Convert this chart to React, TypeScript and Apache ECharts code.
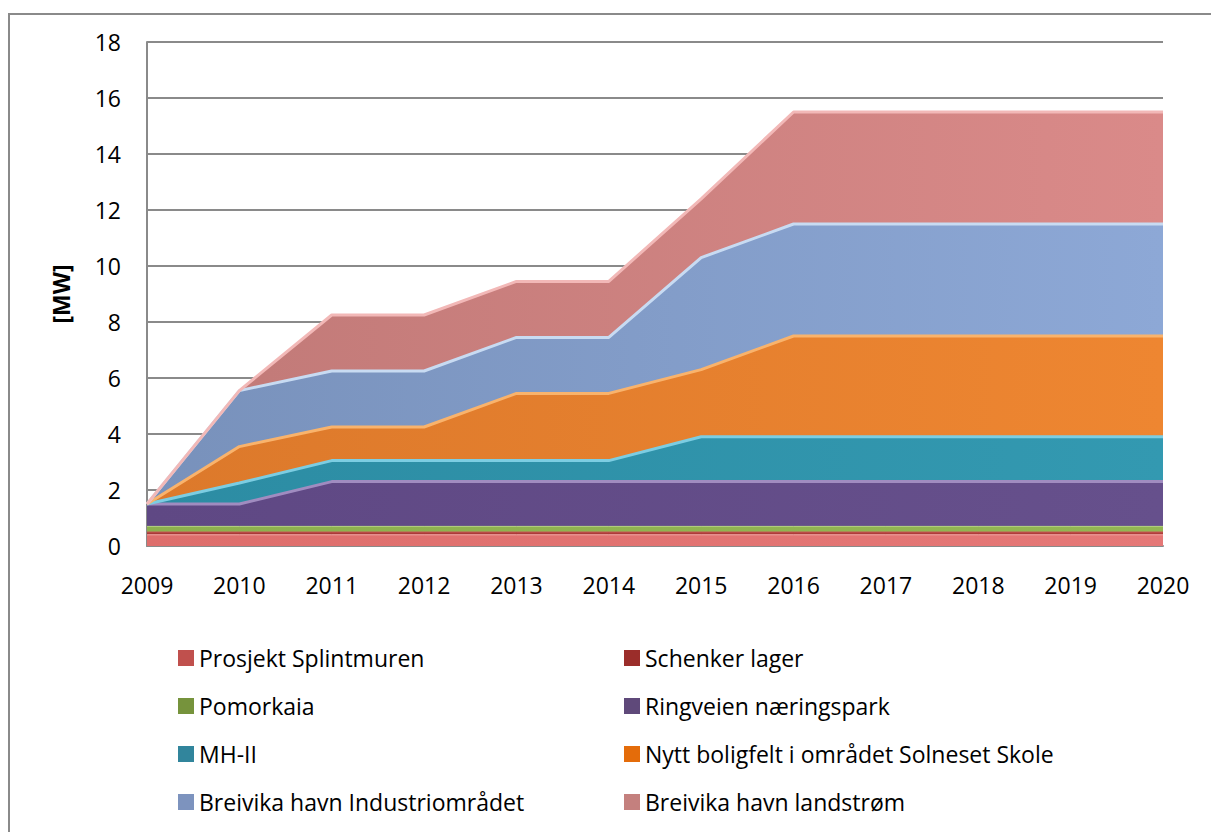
import React, { useEffect, useRef } from "react";
import * as echarts from "echarts";

const years = ["2009", "2010", "2011", "2012", "2013", "2014", "2015", "2016", "2017", "2018", "2019", "2020"];
const splintmuren = [0.4, 0.4, 0.4, 0.4, 0.4, 0.4, 0.4, 0.4, 0.4, 0.4, 0.4, 0.4];
const schenker = [0.1, 0.1, 0.1, 0.1, 0.1, 0.1, 0.1, 0.1, 0.1, 0.1, 0.1, 0.1];
const pomorkaia = [0.2, 0.2, 0.2, 0.2, 0.2, 0.2, 0.2, 0.2, 0.2, 0.2, 0.2, 0.2];
const ringveien = [0.8, 0.8, 1.6, 1.6, 1.6, 1.6, 1.6, 1.6, 1.6, 1.6, 1.6, 1.6];
const mh2 = [0, 0.75, 0.75, 0.75, 0.75, 0.75, 1.6, 1.6, 1.6, 1.6, 1.6, 1.6];
const solneset = [0, 1.3, 1.2, 1.2, 2.4, 2.4, 2.4, 3.6, 3.6, 3.6, 3.6, 3.6];
const industri = [0, 2.0, 2.0, 2.0, 2.0, 2.0, 4.0, 4.0, 4.0, 4.0, 4.0, 4.0];
const landstrom = [0, 0, 2.0, 2.0, 2.0, 2.0, 2.1, 4.0, 4.0, 4.0, 4.0, 4.0];

const names = [
  "Prosjekt Splintmuren",
  "Schenker lager",
  "Pomorkaia",
  "Ringveien næringspark",
  "MH-II",
  "Nytt boligfelt i området Solneset Skole",
  "Breivika havn Industriområdet",
  "Breivika havn landstrøm",
];
const values = [splintmuren, schenker, pomorkaia, ringveien, mh2, solneset, industri, landstrom];
// [left color, right color, edge highlight, legend color]
const colors = [
  ["#DE6E6C", "#E57877", "#F5A3A2", "#C0504D"],
  ["#A83A37", "#B03E3B", "#C75A57", "#9B2D2A"],
  ["#8DB04E", "#93B653", "#B3D47A", "#76933C"],
  ["#5F4884", "#66508C", "#A08CC0", "#5F497A"],
  ["#2C8CA3", "#3399B1", "#7CCDE2", "#31859C"],
  ["#DC792B", "#EE8631", "#F9B36C", "#E46C0A"],
  ["#7891BB", "#8DA8D6", "#C8DBF2", "#7D93BE"],
  ["#C07977", "#DA8A89", "#F2B8B7", "#C4807E"],
];

export default function App() {
  const ref = useRef<HTMLDivElement>(null);
  useEffect(() => {
    if (!ref.current) return;
    const chart = echarts.init(ref.current, undefined, { renderer: "svg" });
    const font = "'Open Sans', sans-serif";
    const series = names.map((n, i) => ({
      name: n,
      type: "line",
      stack: "total",
      data: values[i],
      symbol: "none",
      smooth: false,
      lineStyle: { width: i < 3 ? 1 : 3, color: colors[i][2] },
      itemStyle: { color: colors[i][3] },
      areaStyle: {
        opacity: 1,
        color: new echarts.graphic.LinearGradient(0, 0, 1, 0, [
          { offset: 0, color: colors[i][0] },
          { offset: 1, color: colors[i][1] },
        ]),
      },
      z: 2,
    }));
    const legendBase = {
      orient: "vertical",
      top: 641,
      itemWidth: 16,
      itemHeight: 16,
      itemGap: 24,
      icon: "rect",
      textStyle: { fontFamily: font, fontSize: 23, color: "#000", lineHeight: 24 },
    };
    chart.setOption({
      animation: false,
      backgroundColor: "#fff",
      graphic: [
        {
          type: "rect",
          shape: { x: 9, y: 14, width: 1230, height: 840 },
          style: { fill: "none", stroke: "#8a8a8a", lineWidth: 2 },
        },
      ],
      legend: [
        { ...legendBase, left: 173, data: [names[0], names[2], names[4], names[6]] },
        { ...legendBase, left: 619, data: [names[1], names[3], names[5], names[7]] },
      ],
      grid: { left: 147, right: 48, top: 42, bottom: 286 },
      xAxis: {
        type: "category",
        data: years,
        boundaryGap: false,
        axisLine: { lineStyle: { color: "#8a8a8a", width: 2 } },
        axisTick: { show: false },
        axisLabel: { fontFamily: font, fontSize: 23, color: "#000", margin: 27 },
      },
      yAxis: {
        type: "value",
        min: 0,
        max: 18,
        interval: 2,
        name: "[MW]",
        nameLocation: "middle",
        nameGap: 75,
        nameRotate: 90,
        nameTextStyle: { fontFamily: font, fontSize: 23, fontWeight: "bold", color: "#000" },
        axisLine: { show: true, lineStyle: { color: "#8a8a8a", width: 2 } },
        axisTick: { show: false },
        splitLine: { lineStyle: { color: "#8a8a8a", width: 2 } },
        axisLabel: { fontFamily: font, fontSize: 23, color: "#000", margin: 26 },
      },
      series,
    });
    return () => chart.dispose();
  }, []);
  return (
    <div
      ref={ref}
      style={{ position: "fixed", left: 0, top: 0, width: 1211, height: 832, background: "#fff" }}
    />
  );
}
